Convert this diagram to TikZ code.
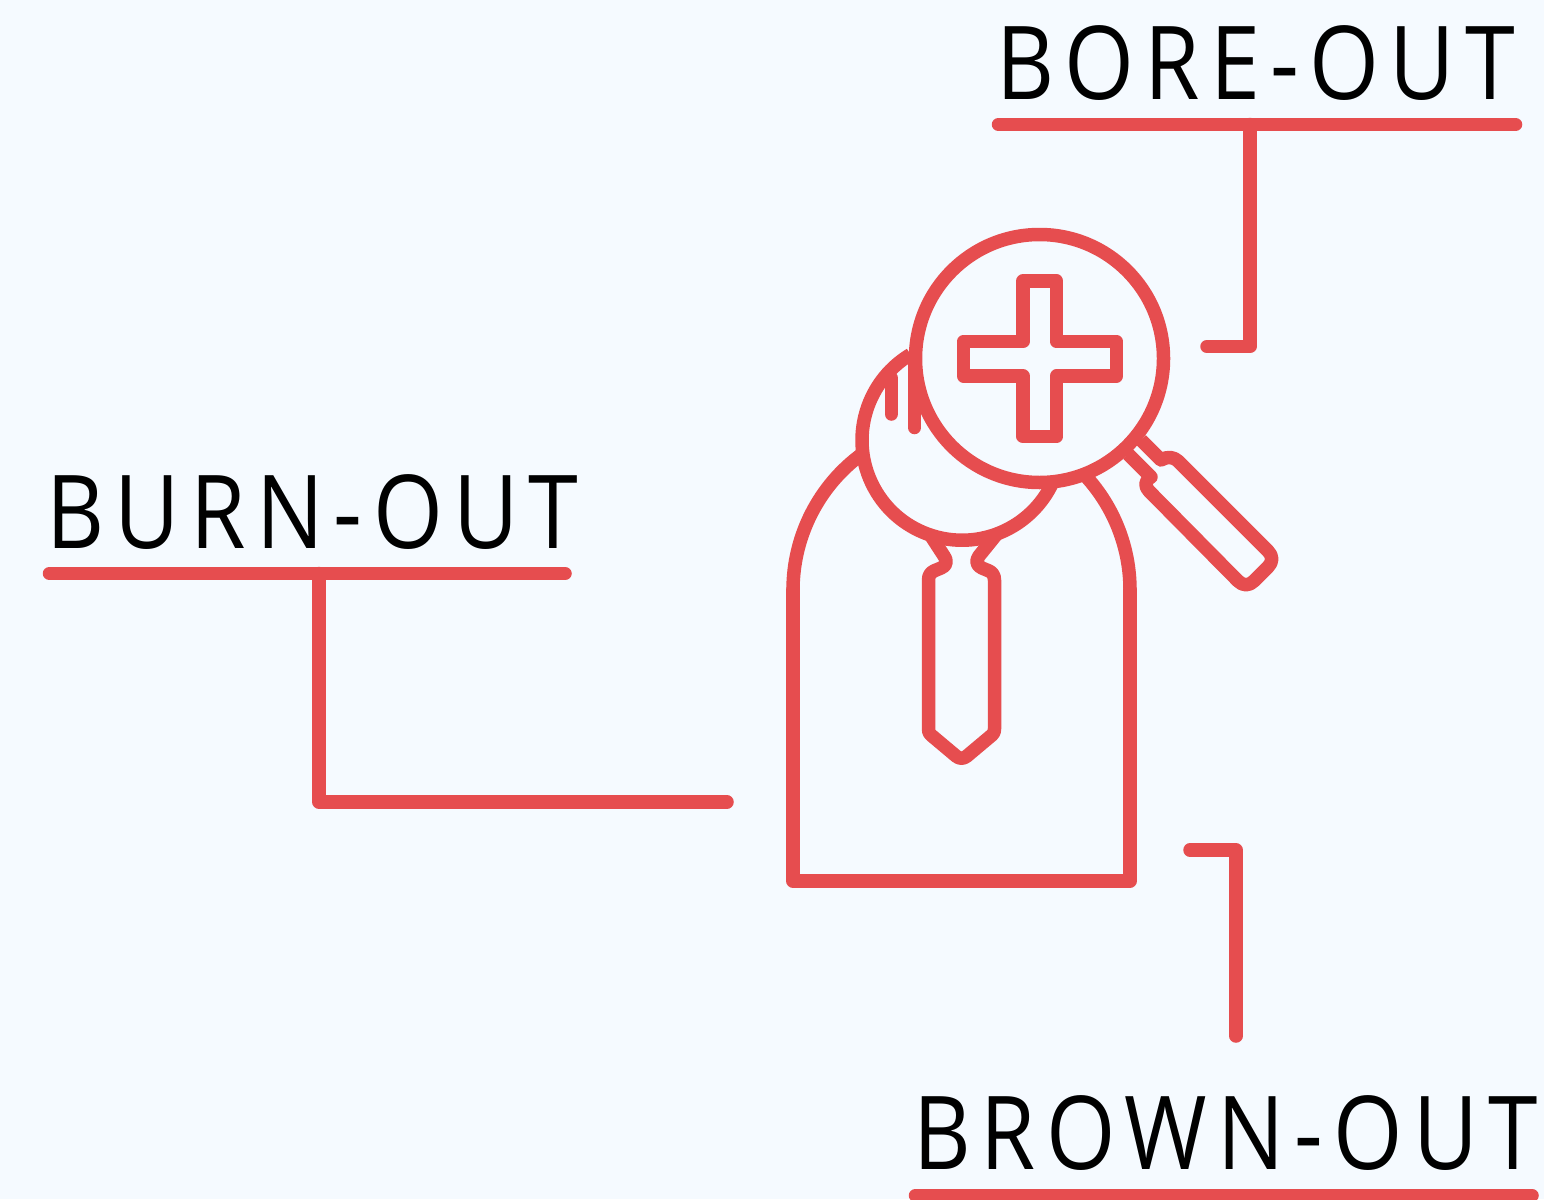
\documentclass[tikz,border=0pt]{standalone}
\usepackage{fontspec}
\newfontfamily\labfont[LetterSpace=10,FakeStretch=0.88]{Open Sans}
\definecolor{bgc}{HTML}{F5FAFF}
\definecolor{redc}{HTML}{E64D4F}
\tikzset{
  ln/.style={draw=redc,line width=13.5pt,line cap=round,line join=round},
  lnb/.style={ln,line cap=butt},
  lab/.style={anchor=base west,inner sep=0pt,outer sep=0pt,text=black,font=\labfont\fontsize{102}{120}\selectfont}
}
\begin{document}
\begin{tikzpicture}[x=1pt,y=-1pt]
\useasboundingbox (0,0) rectangle (1544,1199);
\fill[bgc] (0,0) rectangle (1544,1199);
% labels
\node[lab] (bore) at (996.5,99.5) {BORE-OUT};
\node[lab] (burn) at (46.5,548) {BURN-OUT};
\node[lab,xscale=0.993] (brown) at (913,1169.5) {BROWN-OUT};
% coordinates
\coordinate (boreL) at (998.5,124.5);
\coordinate (boreR) at (1515.5,124.5);
\coordinate (boreA) at (1250,124.5);
\coordinate (boreB) at (1250,346.5);
\coordinate (boreC) at (1207,346.5);
\coordinate (burnL) at (49.5,573.5);
\coordinate (burnR) at (565,573.5);
\coordinate (burnA) at (319,573.5);
\coordinate (burnB) at (319,802);
\coordinate (burnC) at (727,802);
\coordinate (brownL) at (915.5,1195.5);
\coordinate (brownR) at (1532,1195.5);
\coordinate (brownA) at (1190,850);
\coordinate (brownB) at (1236,850);
\coordinate (brownC) at (1236,1036);
% underlines and connectors
\draw[ln] (boreL) -- (boreR);
\draw[ln] (boreA) -- (boreB) -- (boreC);
\draw[ln] (burnL) -- (burnR);
\draw[ln] (burnA) -- (burnB) -- (burnC);
\draw[ln] (brownL) -- (brownR);
\draw[ln] (brownA) -- (brownB) -- (brownC);
% body
\draw[lnb] (793,590) arc[start angle=-180,end angle=-126,radius=168.5];
\draw[lnb] (1130,590) arc[start angle=0,end angle=-42.5,radius=168.5];
\draw[ln] (793,590) -- (793,881) -- (1130,881) -- (1130,590);
% head
\draw[lnb] (910.5,354.5) arc[start angle=-121,end angle=-334,radius=100];
% hair strands
\draw[ln] (891.3,378) -- (891.3,414);
\draw[ln] (914.5,362) -- (914.5,427.5);
% tie
\draw[lnb] (931,536) -- (944,556) .. controls (948,562) and (946,566) .. (941,568) -- (935,570.5) .. controls (931,572) and (928.5,575) .. (928.5,580) -- (928.5,729) .. controls (928.5,732) and (929,733) .. (931,735) -- (956,756) .. controls (959.5,759) and (963.5,759) .. (967,756) -- (992,735) .. controls (994,733) and (994.5,732) .. (994.5,729) -- (994.5,580) .. controls (994.5,575) and (992,572) .. (988,570.5) -- (982,568) .. controls (977,566) and (975,561) .. (979,556) -- (996,535);
% lens
\draw[ln] (1039.5,358.5) circle[radius=124];
% cross
\draw[ln] (1023,281) -- (1056.5,281) -- (1056.5,341.5) -- (1116.5,341.5) -- (1116.5,376) -- (1056.5,376) -- (1056.5,436.5) -- (1023,436.5) -- (1023,376) -- (963.5,376) -- (963.5,341.5) -- (1023,341.5) -- cycle;
% handle
\draw[lnb] (1141,440) -- (1161,460) .. controls (1167,456) and (1174,457) .. (1178,461) -- (1268,551) .. controls (1273,556) and (1273,562) .. (1268,567) -- (1254,581) .. controls (1249,586) and (1243,586) .. (1238,581) -- (1149,491) .. controls (1145,487) and (1144,481) .. (1151,477) -- (1128,454);
\end{tikzpicture}
\end{document}
